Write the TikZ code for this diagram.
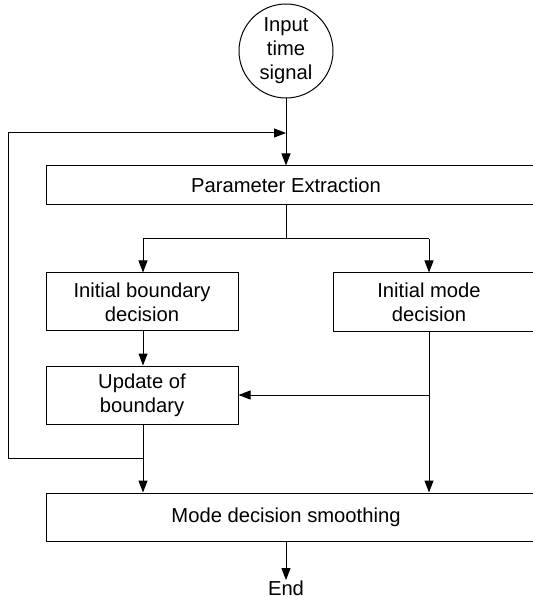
\documentclass[tikz,border=0pt]{standalone}
\usepackage{fontspec}
\setmainfont{Liberation Sans}
\usetikzlibrary{arrows.meta}
\begin{document}
\begin{tikzpicture}[x=0.5pt,y=-0.5pt,
  font=\fontsize{10.1pt}{12pt}\selectfont,
  line width=0.5pt,
  box/.style={draw, rectangle, inner sep=0pt, align=center},
  arr/.style={-{Triangle[length=6pt,width=4.5pt]}},
  txt/.style={inner sep=0pt, align=center}]
\useasboundingbox (0,0) rectangle (533,597);

% start
\node[draw, circle, minimum size=47pt, inner sep=0pt, align=center] (in) at (286,51) {Input\\time\\signal};

% process boxes (the wide ones run off the right edge)
\node[box, minimum width=247pt, minimum height=19.5pt,
      label={[txt, xshift=-3.5pt]center:Parameter Extraction}] (pe) at (293,185.5) {};
\node[box, minimum width=96pt, minimum height=29pt] (ib) at (142,302) {Initial boundary\\decision};
\node[box, minimum width=103.5pt, minimum height=29.5pt,
      label={[txt, xshift=-3.75pt]center:Initial mode\\decision}] (im) at (436.5,302.5) {};
\node[box, minimum width=96pt, minimum height=29pt] (ub) at (142,395) {Update of\\boundary};
\node[box, minimum width=247pt, minimum height=24pt,
      label={[txt, xshift=-3.5pt]center:Mode decision smoothing}] (ms) at (293,517) {};
\node[txt] (end) at (286,588) {End};

% junction points
\coordinate (split) at (286,239);
\coordinate (bl) at (143,239);
\coordinate (br) at (429,239);
\coordinate (mj) at (429,395);
\coordinate (lj) at (143,458);
\coordinate (lc) at (8,458);
\coordinate (tc) at (8,133);
\coordinate (tj) at (286,133);

% connectors
\draw[arr] (in.south) -- (in.south |- pe.north);
\draw (split |- pe.south) -- (split);
\draw (bl) -- (br);
\draw[arr] (bl) -- (bl |- ib.north);
\draw[arr] (br) -- (br |- im.north);
\draw[arr] (bl |- ib.south) -- (bl |- ub.north);
\draw[arr] (br |- im.south) -- (br |- ms.north);
\draw[arr] (mj) -- (ub.east |- mj);
\draw[arr] (bl |- ub.south) -- (bl |- ms.north);
\draw[arr] (lj) -- (lc) -- (tc) -- (tj);
\draw[arr] (ms.south -| end) -- (end.north);
\end{tikzpicture}
\end{document}
